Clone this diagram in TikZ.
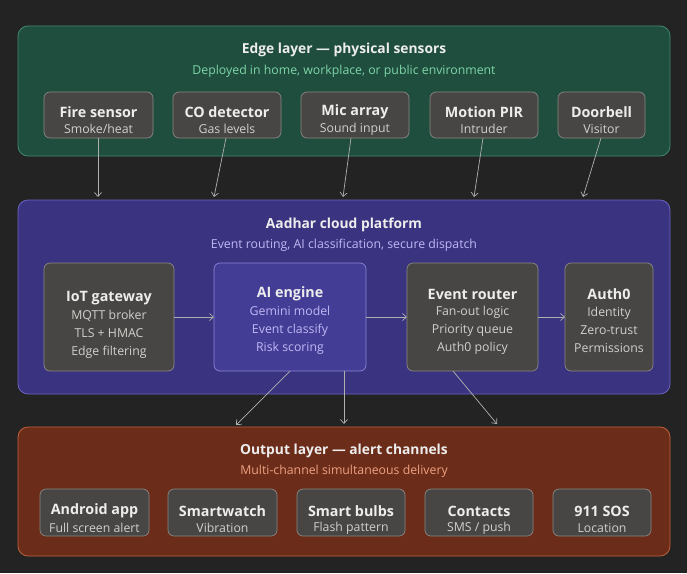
\documentclass[tikz,border=0pt]{standalone}
\usepackage{fontspec}
\setmainfont{Open Sans}
\usetikzlibrary{arrows.meta}
\definecolor{bg}{HTML}{232323}
\definecolor{gfill}{HTML}{1F4D3E}\definecolor{gline}{HTML}{3F8A6A}\definecolor{gsub}{HTML}{7ED6A8}
\definecolor{pfill}{HTML}{3A3480}\definecolor{pline}{HTML}{6B64C4}\definecolor{psub}{HTML}{C0B8F5}
\definecolor{pinner}{HTML}{433D95}\definecolor{pinline}{HTML}{8A84D8}
\definecolor{ofill}{HTML}{6B2D1A}\definecolor{oline}{HTML}{C0603A}\definecolor{osub}{HTML}{F0A080}
\definecolor{bfill}{HTML}{474644}\definecolor{bline}{HTML}{8A8884}
\definecolor{txt}{HTML}{EDEDED}\definecolor{sub}{HTML}{D0D0CC}\definecolor{arr}{HTML}{B0B0AC}
\begin{document}
\begin{tikzpicture}[x=1pt,y=-1pt,
 cont/.style={rounded corners=10pt,line width=0.8pt},
 box/.style={draw=bline,fill=bfill,rounded corners=6pt,line width=0.7pt},
 ttl/.style={font=\fontsize{13.8}{16}\selectfont\bfseries,text=txt},
 csub/.style={font=\fontsize{12.3}{14}\selectfont},
 bt/.style={font=\fontsize{14.3}{16}\selectfont\bfseries,text=txt},
 bs/.style={font=\fontsize{12.3}{18}\selectfont,text=sub},
 ar/.style={draw=arr,line width=0.7pt,-{Straight Barb[length=4pt,width=7pt]}}]
\fill[bg] (0,0) rectangle (687,573);
\useasboundingbox (0,0) rectangle (687,573);
% containers
\draw[cont,fill=gfill,draw=gline] (18,26) rectangle (670,156);
\node[ttl] (gt) at (344,50) {Edge layer — physical sensors};
\node[csub,text=gsub] (gs) at (344,71) {Deployed in home, workplace, or public environment};
\draw[cont,fill=pfill,draw=pline] (18,200) rectangle (670,394);
\node[ttl] (pt) at (344,225) {Aadhar cloud platform};
\node[csub,text=psub] (ps) at (344,245) {Event routing, AI classification, secure dispatch};
\draw[cont,fill=ofill,draw=oline] (18,427) rectangle (670,556);
\node[ttl] (ot) at (344,451) {Output layer — alert channels};
\node[csub,text=osub] (os) at (344,471) {Multi-channel simultaneous delivery};
% sensors
\draw[box] (44,92) rectangle (153,138);
\node[bt] (s1) at (98.5,112) {Fire sensor};\node[bs] at (98.5,129) {Smoke/heat};
\draw[box] (173,92) rectangle (281,138);
\node[bt] (s2) at (227,112) {CO detector};\node[bs] at (227,129) {Gas levels};
\draw[box] (301,92) rectangle (409,138);
\node[bt] (s3) at (355,112) {Mic array};\node[bs] at (355,129) {Sound input};
\draw[box] (430,92) rectangle (538,138);
\node[bt] (s4) at (484,112) {Motion PIR};\node[bs] at (484,129) {Intruder};
\draw[box] (558,92) rectangle (645,138);
\node[bt] (s5) at (601.5,112) {Doorbell};\node[bs] at (601.5,129) {Visitor};
\coordinate (a1) at (98,138);\coordinate (b1) at (98,197);
\coordinate (a2) at (226,138);\coordinate (b2) at (214,197);
\coordinate (a3) at (351,138);\coordinate (b3) at (343,197);
\coordinate (a4) at (483,138);\coordinate (b4) at (474,197);
\coordinate (a5) at (601,138);\coordinate (b5) at (583,197);
\foreach \i in {1,...,5}{\draw[ar] (a\i) -- (b\i);}
% cloud
\draw[box] (44,263) rectangle (174,371);
\node[bt] (iot) at (109,298) {IoT gateway};
\node[bs,align=center] at (109,334) {MQTT broker\\TLS + HMAC\\Edge filtering};
\draw[rounded corners=6pt,fill=pinner,draw=pinline,line width=0.7pt] (214,263) rectangle (366,371);
\node[bt] (ai) at (290,294) {AI engine};
\node[bs,text=psub,align=center] at (290,330) {Gemini model\\Event classify\\Risk scoring};
\draw[box] (407,263) rectangle (538,371);
\node[bt] (er) at (472.5,294) {Event router};
\node[bs,align=center] at (472.5,330) {Fan-out logic\\Priority queue\\Auth0 policy};
\draw[box] (565,263) rectangle (653,371);
\node[bt] (au) at (609,294) {Auth0};
\node[bs,align=center] at (609,330) {Identity\\Zero-trust\\Permissions};
\coordinate (i1) at (174,317);\coordinate (i2) at (214,317);
\coordinate (i3) at (366,317);\coordinate (i4) at (407,317);
\coordinate (i5) at (538,317);\coordinate (i6) at (565,317);
\draw[ar] (i1) -- (i2);\draw[ar] (i3) -- (i4);\draw[ar] (i5) -- (i6);
\coordinate (d1) at (290,371);\coordinate (e1) at (236,425);
\coordinate (d2) at (344,371);\coordinate (e2) at (344,424);
\coordinate (d3) at (453,371);\coordinate (e3) at (497,424);
\draw[ar] (d1) -- (e1);\draw[ar] (d2) -- (e2);\draw[ar] (d3) -- (e3);
% outputs
\draw[box] (40,489) rectangle (149,536);
\node[bt] (o1) at (94.5,511) {Android app};\node[bs] at (94.5,528) {Full screen alert};
\draw[box] (168,489) rectangle (277,536);
\node[bt] (o2) at (222.5,511) {Smartwatch};\node[bs] at (222.5,528) {Vibration};
\draw[box] (297,489) rectangle (405,536);
\node[bt] (o3) at (351,511) {Smart bulbs};\node[bs] at (351,528) {Flash pattern};
\draw[box] (425,489) rectangle (533,536);
\node[bt] (o4) at (479,511) {Contacts};\node[bs] at (479,528) {SMS / push};
\draw[box] (553,489) rectangle (651,536);
\node[bt] (o5) at (602,511) {911 SOS};\node[bs] at (602,528) {Location};
\end{tikzpicture}
\end{document}
